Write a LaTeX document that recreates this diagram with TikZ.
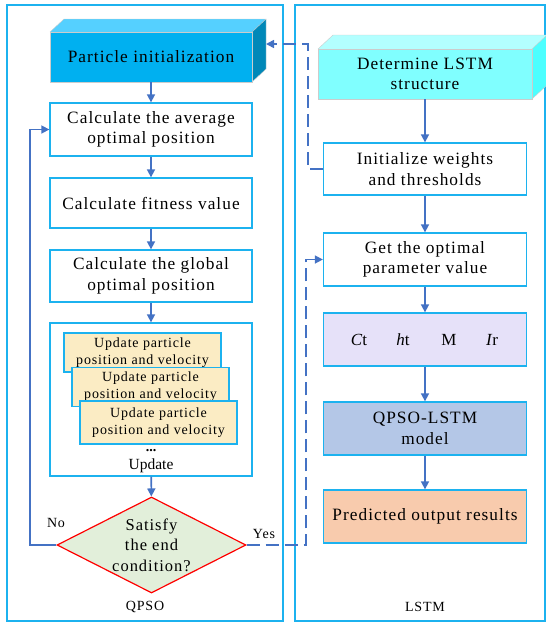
\documentclass[tikz,border=0pt]{standalone}
\usepackage{fontspec}
\setmainfont{Liberation Serif}
\newfontfamily\spfont{Liberation Serif}[LetterSpace=6]
\usetikzlibrary{arrows.meta,shapes.geometric}
\definecolor{arrowblue}{HTML}{4472C4}
\definecolor{boxcyan}{HTML}{1CB2EF}
\definecolor{ylw}{HTML}{FBECC4}
\definecolor{lav}{HTML}{E6E1F9}
\definecolor{steel}{HTML}{B4C7E7}
\definecolor{peach}{HTML}{F8CBAD}
\definecolor{mint}{HTML}{E2EFDA}
\definecolor{pfront}{HTML}{00B0F0}
\definecolor{ptop}{HTML}{55D0FF}
\definecolor{pside}{HTML}{0088B8}
\definecolor{dfront}{HTML}{80FFFF}
\definecolor{dtop}{HTML}{B3FFFF}
\definecolor{dside}{HTML}{4CFFFF}
\tikzset{
  mainbox/.style={draw=boxcyan, line width=1.3pt, fill=white, minimum width=202pt, inner sep=0pt, align=center, font=\spfont\fontsize{17.3}{20.5}\selectfont},
  rbox/.style={mainbox, minimum width=203pt},
  ubox/.style={draw=boxcyan, line width=1.3pt, fill=ylw, minimum width=157pt, minimum height=39pt, inner sep=0pt, align=center, font=\spfont\fontsize{14}{17}\selectfont},
  flow/.style={draw=arrowblue, line width=1.6pt, -{Triangle[length=8pt,width=8pt]}},
  dflow/.style={draw=arrowblue, line width=1.6pt, dash pattern=on 13pt off 6pt, -{Triangle[length=8pt,width=8pt]}},
  frame/.style={draw=boxcyan, line width=2.2pt},
  lbl/.style={font=\spfont\fontsize{14}{16}\selectfont, inner sep=0pt}
}
\begin{document}
\begin{tikzpicture}[x=1pt,y=-1pt]
\useasboundingbox (0,0) rectangle (546,625);
% outer frames
\draw[frame] (7,5) rectangle (283,621);
\draw[frame] (295,5) rectangle (545,621);
\node[lbl] (qpsolbl) at (145,607) {QPSO};
\node[lbl] (lstmlbl) at (425,607) {LSTM};

% particle initialization 3D box
\fill[ptop] (50,32) -- (64,19) -- (266,19) -- (252,32) -- cycle;
\fill[pside] (252,32) -- (266,19) -- (266,69) -- (252,82) -- cycle;
\draw[gray!40, line width=0.4pt] (50,32) -- (64,19) -- (266,19) -- (252,32) (266,19) -- (266,69) -- (252,82);
\node[mainbox, fill=pfront, draw=gray!40, line width=0.6pt, minimum height=50pt] (init) at (151,57) {Particle initialization};
\coordinate (initside) at (266,44);

\node[mainbox, minimum height=53pt] (avg) at (151,129.5) {Calculate the average\\optimal position};
\node[mainbox, minimum height=50pt] (fit) at (151,203) {Calculate fitness value};
\node[mainbox, minimum height=52pt] (glob) at (151,276) {Calculate the global\\optimal position};
\node[mainbox, minimum height=153pt] (upd) at (151,399.5) {};
\node[ubox] (u1) at (142.5,352.5) {Update particle\\position and velocity};
\node[ubox] (u2) at (150.5,387) {Update particle\\position and velocity};
\node[ubox, minimum height=43pt] (u3) at (158.5,422.5) {Update particle\\position and velocity};
\node[inner sep=0pt, font=\bfseries\fontsize{14}{14}\selectfont] (dots) at (151,451) {...};
\node[inner sep=0pt, font=\fontsize{15.5}{18}\selectfont] (updlbl) at (151,466) {Update};

\node[diamond, draw=red, line width=1.2pt, fill=mint, shape aspect=2, inner sep=0pt,
      minimum width=189pt, minimum height=96pt, align=center,
      font=\spfont\fontsize{16.5}{20.5}\selectfont] (cond) at (151.5,545) {Satisfy\\the end\\condition?};
\node[lbl] (nolbl) at (56,523) {No};
\node[lbl] (yeslbl) at (264,534) {Yes};

% right column
\fill[dtop] (318,49) -- (333,35) -- (547,35) -- (532,49) -- cycle;
\fill[dside] (532,49) -- (547,35) -- (547,85) -- (532,99) -- cycle;
\draw[gray!40, line width=0.4pt] (318,49) -- (333,35) -- (547,35) -- (532,49) (532,99) -- (547,85);
\node[mainbox, fill=dfront, draw=gray!40, line width=0.6pt, minimum width=214pt, minimum height=50pt] (det) at (425,74) {Determine LSTM\\structure};
\node[rbox, minimum height=52pt] (iw) at (425,169) {Initialize weights\\and thresholds};
\node[rbox, minimum height=53pt] (go) at (425,259.5) {Get the optimal\\parameter value};
\node[rbox, minimum height=53pt, fill=lav] (ct) at (425,339.5) {};
\node[inner sep=0pt, font=\fontsize{17}{20}\selectfont] (ctl) at (359,339.5) {\textit{C}t};
\node[inner sep=0pt, font=\fontsize{17}{20}\selectfont] (htl) at (403,339.5) {\textit{h}t};
\node[inner sep=0pt, font=\fontsize{17}{20}\selectfont] (ml) at (449,339.5) {M};
\node[inner sep=0pt, font=\fontsize{17}{20}\selectfont] (irl) at (492,339.5) {\textit{I}r};
\node[rbox, minimum height=53pt, fill=steel] (ql) at (425,428.5) {QPSO-LSTM\\model};
\node[rbox, minimum height=53pt, fill=peach] (pr) at (425,516.5) {Predicted output results};

% solid arrows
\draw[flow] (init) -- (avg);
\draw[flow] (avg) -- (fit);
\draw[flow] (fit) -- (glob);
\draw[flow] (glob) -- (upd);
\draw[flow] (upd) -- (cond);
\draw[flow] (det) -- (iw);
\draw[flow] (iw) -- (go);
\draw[flow] (go) -- (ct);
\draw[flow] (ct) -- (ql);
\draw[flow] (ql) -- (pr);
\draw[flow] (cond.west) -- (30,545) |- (avg.west);

% dashed
\draw[dflow] (iw.west) -- (308,169) |- (initside);
\draw[dflow] (cond.east) -- (306,545) |- (go.west);
\end{tikzpicture}
\end{document}
